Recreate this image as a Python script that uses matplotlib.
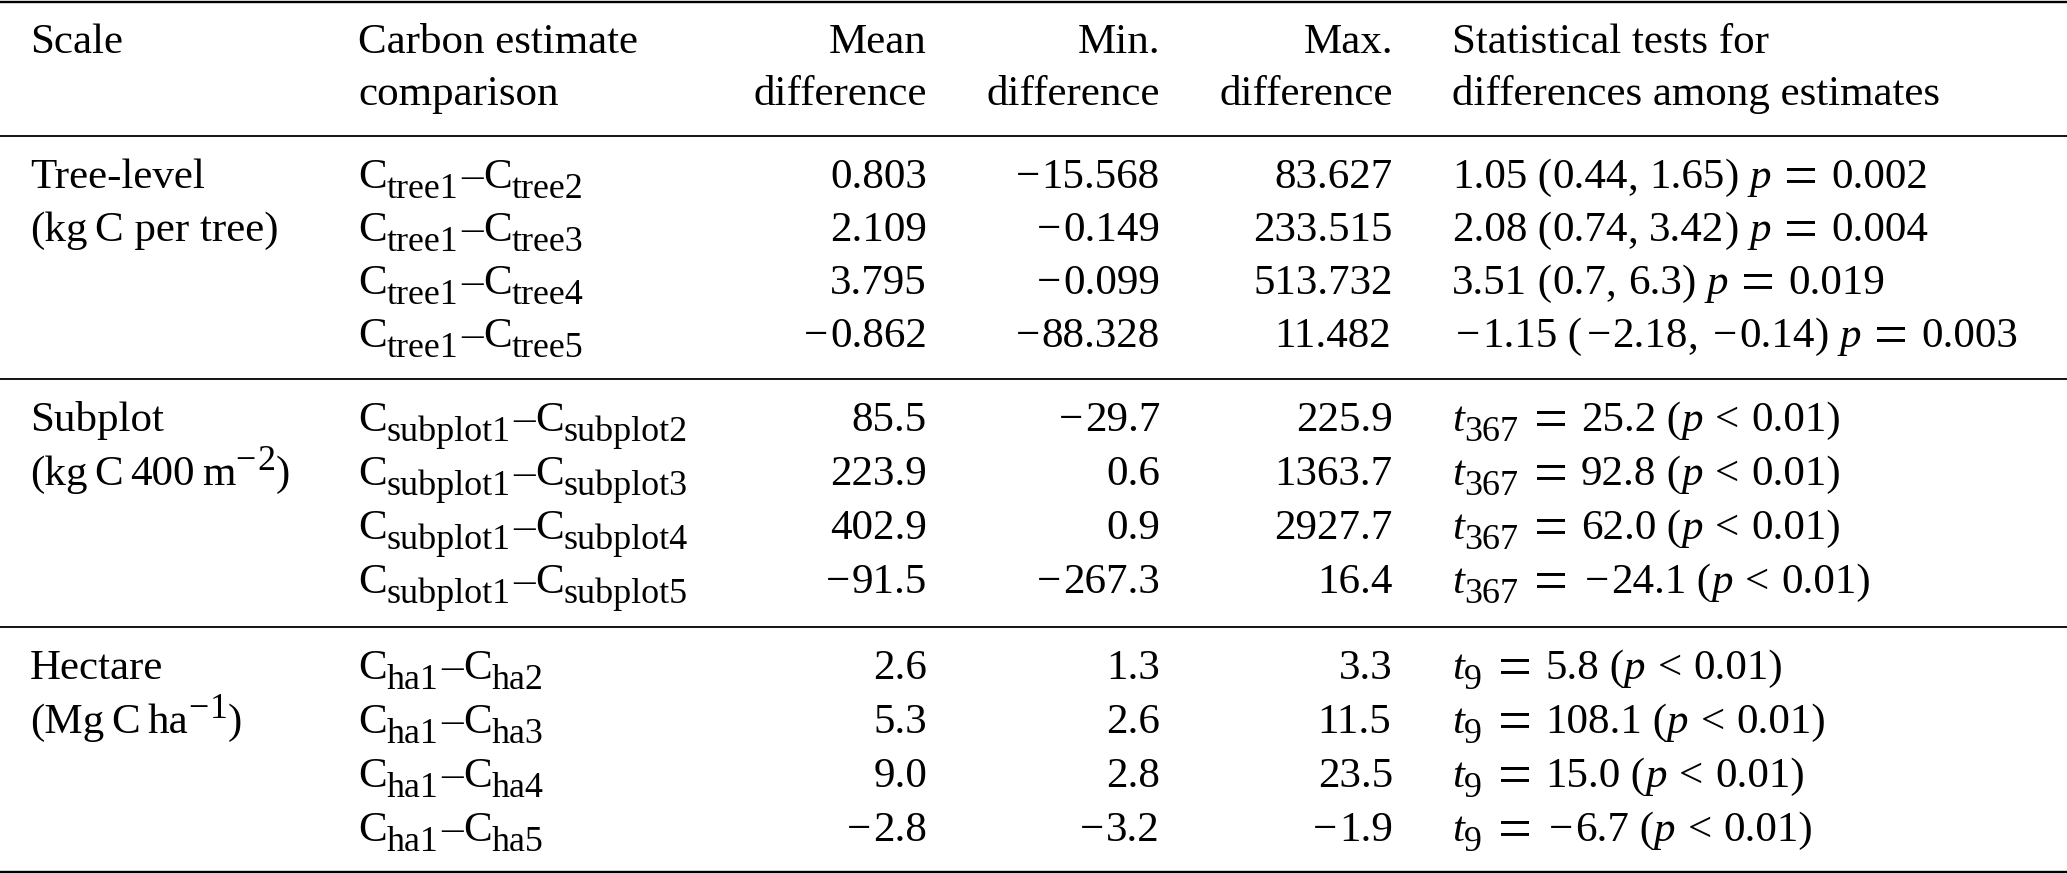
import matplotlib
matplotlib.use("Agg")
import matplotlib.pyplot as plt

plt.rcParams['font.family'] = ['Liberation Serif', 'DejaVu Serif']

# ---------------- data ----------------
headers_l1 = ["Scale", "Carbon estimate", "Mean", "Min.", "Max.", "Statistical tests for"]
headers_l2 = ["", "comparison", "difference", "difference", "difference", "differences among estimates"]

scale_names = ["Tree-level", "Subplot", "Hectare"]
subscripts = ["tree", "subplot", "ha"]
compare_to = [2, 3, 4, 5]
decimals = [3, 1, 1]

mean_diff = [[0.803, 2.109, 3.795, -0.862],
             [85.5, 223.9, 402.9, -91.5],
             [2.6, 5.3, 9.0, -2.8]]
min_diff = [[-15.568, -0.149, -0.099, -88.328],
            [-29.7, 0.6, 0.9, -267.3],
            [1.3, 2.6, 2.8, -3.2]]
max_diff = [[83.627, 233.515, 513.732, 11.482],
            [225.9, 1363.7, 2927.7, 16.4],
            [3.3, 11.5, 23.5, -1.9]]

tree_est = ["1.05", "2.08", "3.51", "-1.15"]
tree_lo = ["0.44", "0.74", "0.7", "-2.18"]
tree_hi = ["1.65", "3.42", "6.3", "-0.14"]
tree_p = ["0.002", "0.004", "0.019", "0.003"]
subplot_df = "367"
subplot_t = ["25.2", "92.8", "62.0", "-24.1"]
ha_df = "9"
ha_t = ["5.8", "108.1", "15.0", "-6.7"]

# ---------------- layout ----------------
W, H = 2067, 874
FS = 31
EM = FS * 100 / 72.0
SUB = 0.835
SUB_DY = 10
SUP_DY = -15
EQ_S = 1.4
EQ_DY = 6
col_x = [30, 358, 927, 1160, 1393, 1452]
col_ha = ["left", "left", "right", "right", "right", "left"]
head_y = [53, 105]
row_y = [[188, 241, 294, 347], [431, 485, 539, 593], [679, 733, 787, 841]]
rules = [(2, 1.7), (136, 1.3), (379, 1.3), (627, 1.3), (872, 1.7)]

# Times / Liberation Serif advance widths (per 1000 em)
W_REG = {' ': 250, '(': 333, ')': 333, ',': 250, '.': 250, '\u2013': 500,
         '=': 564, '<': 564, '\u2212': 564, 'C': 667, 'M': 889, 'a': 444,
         'b': 500, 'e': 444, 'g': 500, 'h': 500, 'k': 500, 'l': 278,
         'm': 778, 'o': 500, 'p': 500, 'r': 333, 's': 389, 't': 278, 'u': 500}
for _d in "0123456789":
    W_REG[_d] = 500
W_IT = {'p': 500, 't': 278}

fig = plt.figure(figsize=(W / 100, H / 100), dpi=100)
ax = fig.add_axes([0, 0, 1, 1])
ax.set_xlim(0, W)
ax.set_ylim(H, 0)
ax.axis("off")


def R(text, style="normal", s=1.0, dy=0.0, w=None, xoff=0.0):
    return dict(t=text, style=style, s=s, dy=dy, w=w, xoff=xoff)


def gap(px):
    return R("", w=px)


def run_width(r):
    if r["w"] is not None:
        return r["w"]
    table = W_IT if r["style"] == "italic" else W_REG
    return sum(table.get(c, 500) for c in r["t"]) / 1000.0 * EM * r["s"]


def num_runs(s, scale=1.0, dy=0.0, lead=4):
    out = []
    if s.startswith("-"):
        out.append(R("\u2212", s=scale, dy=dy, w=(26 + lead) * scale, xoff=lead * scale))
        s = s[1:]
    out.append(R(s, s=scale, dy=dy))
    return out


def eq_runs(sym):
    if sym == "=":
        return [gap(13), R("=", s=EQ_S, dy=EQ_DY, w=0.564 * EQ_S * EM), gap(13)]
    return [gap(12), R("<"), gap(12)]


def draw_runs(x, y, runs, align="left"):
    widths = [run_width(r) for r in runs]
    pen = x - sum(widths) if align == "right" else x
    for r, w in zip(runs, widths):
        if r["t"]:
            ax.text(pen + r["xoff"], y + r["dy"], r["t"], fontsize=FS * r["s"],
                    fontstyle=r["style"], ha="left", va="baseline", color="black")
        pen += w


def fmt(v, d):
    return f"{v:.{d}f}"


def unit_runs(g):
    th = EM / 6.0
    if g == 0:
        return [R("(kg"), gap(th), R("C per tree)")]
    if g == 1:
        return ([R("(kg"), gap(th), R("C"), gap(th), R("400"), gap(th), R("m")]
                + num_runs("-2", SUB, SUP_DY, lead=0) + [R(")")])
    return ([R("(Mg"), gap(th), R("C"), gap(th), R("ha")]
            + num_runs("-1", SUB, SUP_DY, lead=0) + [R(")")])


def comp_runs(sub, k):
    return [R("C"), R(sub + "1", s=SUB, dy=SUB_DY), gap(3), R("\u2013"),
            R("C"), R(sub + str(k), s=SUB, dy=SUB_DY)]


def test_runs(g, i):
    if g == 0:
        return (num_runs(tree_est[i]) + [R(" (")] + num_runs(tree_lo[i]) + [R(", ")]
                + num_runs(tree_hi[i]) + [R(") "), R("p", "italic")] + eq_runs("=")
                + num_runs(tree_p[i]))
    df, tv = (subplot_df, subplot_t[i]) if g == 1 else (ha_df, ha_t[i])
    return ([R("t", "italic"), R(df, s=SUB, dy=SUB_DY), gap(3)] + eq_runs("=")
            + num_runs(tv) + [R(" ("), R("p", "italic")] + eq_runs("<") + [R("0.01)")])


for y, lw in rules:
    ax.axhline(y, color="black", lw=lw)

for c in range(6):
    ax.text(col_x[c], head_y[0], headers_l1[c], ha=col_ha[c], va="baseline", fontsize=FS)
    if headers_l2[c]:
        ax.text(col_x[c], head_y[1], headers_l2[c], ha=col_ha[c], va="baseline", fontsize=FS)

for g in range(3):
    ys = row_y[g]
    draw_runs(col_x[0], ys[0], [R(scale_names[g])])
    draw_runs(col_x[0], ys[1], unit_runs(g))
    for i in range(4):
        draw_runs(col_x[1], ys[i], comp_runs(subscripts[g], compare_to[i]))
        draw_runs(col_x[2], ys[i], num_runs(fmt(mean_diff[g][i], decimals[g])), "right")
        draw_runs(col_x[3], ys[i], num_runs(fmt(min_diff[g][i], decimals[g])), "right")
        draw_runs(col_x[4], ys[i], num_runs(fmt(max_diff[g][i], decimals[g])), "right")
        draw_runs(col_x[5], ys[i], test_runs(g, i))

fig.savefig("out.png", dpi=100)
